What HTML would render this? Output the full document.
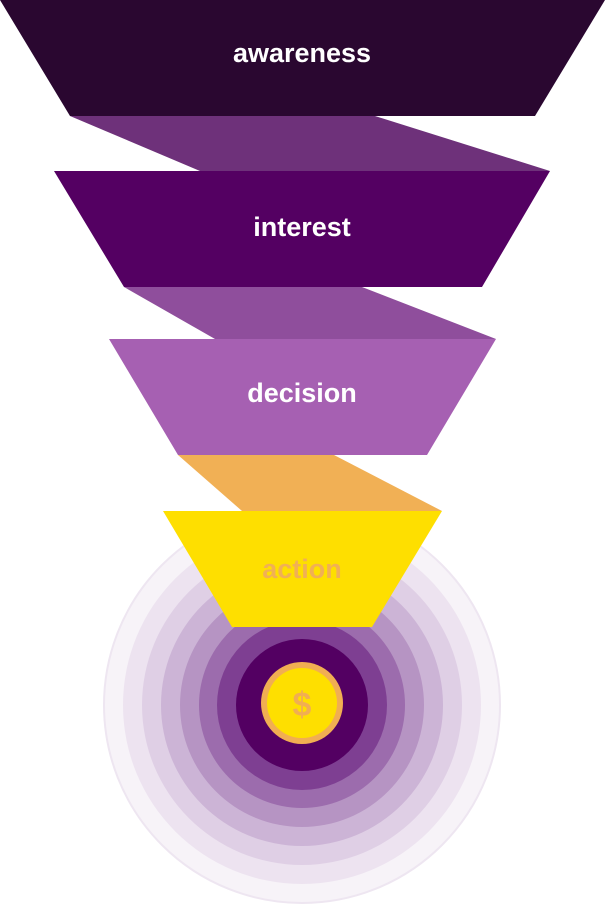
<!DOCTYPE html>
<html><head><meta charset="utf-8"><style>
html,body{margin:0;padding:0;background:#fff;width:605px;height:904px;overflow:hidden}
text{font-family:"Liberation Sans",sans-serif;font-weight:bold;font-size:27px;text-anchor:middle}
</style></head><body>
<svg width="605" height="904" viewBox="0 0 605 904" xmlns="http://www.w3.org/2000/svg">
<g>
<circle cx="302" cy="705" r="198" fill="#f7f3f8"/>
<circle cx="302" cy="705" r="198" fill="none" stroke="#eee6f1" stroke-width="2"/>
<circle cx="302" cy="705" r="179" fill="#ede3f0"/>
<circle cx="302" cy="705" r="160" fill="#dfcfe5"/>
<circle cx="302" cy="705" r="141" fill="#ccb4d6"/>
<circle cx="302" cy="705" r="122" fill="#b694c3"/>
<circle cx="302" cy="705" r="103" fill="#9c6cad"/>
<circle cx="302" cy="705" r="85" fill="#7e3f92"/>
<circle cx="302" cy="705" r="66" fill="#530062"/>
<circle cx="302" cy="703" r="41" fill="#f1ae52"/>
<circle cx="302" cy="703" r="35" fill="#fedf00"/>
<text x="302" y="716" fill="#f1ae52" style="font-size:34px">$</text>
</g>
<polygon points="0,0 605,0 535,116 70,116" fill="#2a0730"/>
<polygon points="70,116 375,116 550,171 200,171" fill="#6e317a"/>
<polygon points="54,171 550,171 482,287 124,287" fill="#540062"/>
<polygon points="124,287 362,287 496,339 215,339" fill="#8f4e9c"/>
<polygon points="109,339 496,339 427,455 178,455" fill="#a660b2"/>
<polygon points="178,455 334,455 442,511 242,511" fill="#f1b055"/>
<polygon points="163,511 442,511 372,627 232,627" fill="#fedf00"/>
<text x="302" y="62" fill="#fff">awareness</text>
<text x="302" y="236" fill="#fff">interest</text>
<text x="302" y="402" fill="#fff">decision</text>
<text x="302" y="578" fill="#f1b055">action</text>
</svg>
</body></html>
